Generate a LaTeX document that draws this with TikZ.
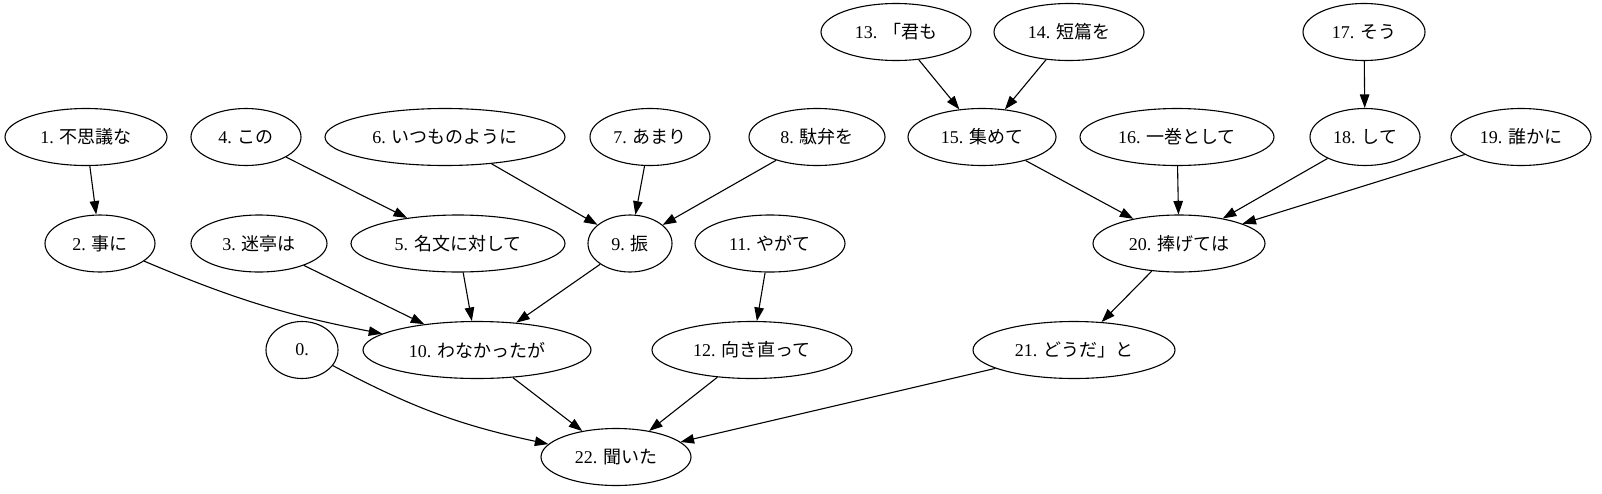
\documentclass[tikz,border=0pt]{standalone}
\usepackage{fontspec}
\setmainfont{Liberation Serif}
\newfontfamily\cjk{Noto Sans CJK JP}
\usetikzlibrary{shapes.geometric,arrows.meta}
\begin{document}
\begin{tikzpicture}[x=1pt,y=-1pt,
  tok/.style={ellipse,draw,line width=1.1pt,inner sep=0pt,minimum height=57pt,font=\fontsize{18}{20}\selectfont},
  dep/.style={-{Triangle[length=13.5pt,width=9.5pt]},line width=1.1pt}]
\useasboundingbox (0,0) rectangle (1602,493);
% row A
\node[tok,minimum width=150pt] (n13) at (896,32) {13. {\cjk 「君も}};
\node[tok,minimum width=150pt] (n14) at (1069,32) {14. {\cjk 短篇を}};
\node[tok,minimum width=122pt] (n17) at (1364,32) {17. {\cjk そう}};
% row B
\node[tok,minimum width=162pt] (n1) at (86,137) {1. {\cjk 不思議な}};
\node[tok,minimum width=110pt] (n4) at (246,137) {4. {\cjk この}};
\node[tok,minimum width=240pt] (n6) at (445,137) {6. {\cjk いつものように}};
\node[tok,minimum width=120pt] (n7) at (650,137) {7. {\cjk あまり}};
\node[tok,minimum width=136pt] (n8) at (817,137) {8. {\cjk 駄弁を}};
\node[tok,minimum width=148pt] (n15) at (982,137) {15. {\cjk 集めて}};
\node[tok,minimum width=194pt] (n16) at (1177,137) {16. {\cjk 一巻として}};
\node[tok,minimum width=110pt] (n18) at (1365,137) {18. {\cjk して}};
\node[tok,minimum width=140pt] (n19) at (1521,137) {19. {\cjk 誰かに}};
% row C
\node[tok,minimum width=110pt] (n2) at (100,243.5) {2. {\cjk 事に}};
\node[tok,minimum width=136pt] (n3) at (259,243.5) {3. {\cjk 迷亭は}};
\node[tok,minimum width=214pt] (n5) at (458,243.5) {5. {\cjk 名文に対して}};
\node[tok,minimum width=84pt] (n9) at (630,243.5) {9. {\cjk 振}};
\node[tok,minimum width=150pt] (n11) at (770,243.5) {11. {\cjk やがて}};
\node[tok,minimum width=172pt] (n20) at (1179,243.5) {20. {\cjk 捧げては}};
% row D
\node[tok,minimum width=72pt] (n0) at (302,350) {0.};
\node[tok,minimum width=228pt] (n10) at (477,350) {10. {\cjk わなかったが}};
\node[tok,minimum width=200pt] (n12) at (752,350) {12. {\cjk 向き直って}};
\node[tok,minimum width=202pt] (n21) at (1074,350) {21. {\cjk どうだ」と}};
% row E
\node[tok,minimum width=150pt] (n22) at (616,457) {22. {\cjk 聞いた}};
% edges
\draw[dep] (n1) -- (n2);
\draw[dep] (n4) -- (n5);
\draw[dep] (n6) -- (n9);
\draw[dep] (n7) -- (n9);
\draw[dep] (n8) -- (n9);
\draw[dep] (n2) to[bend right=6] (n10);
\draw[dep] (n3) -- (n10);
\draw[dep] (n5) -- (n10);
\draw[dep] (n9) -- (n10);
\draw[dep] (n11) -- (n12);
\draw[dep] (n13) -- (n15);
\draw[dep] (n14) -- (n15);
\draw[dep] (n17) -- (n18);
\draw[dep] (n15) -- (n20);
\draw[dep] (n16) -- (n20);
\draw[dep] (n18) -- (n20);
\draw[dep] (n19) -- (n20);
\draw[dep] (n20) -- (n21);
\draw[dep] (n0) to[bend right=8] (n22);
\draw[dep] (n10) -- (n22);
\draw[dep] (n12) -- (n22);
\draw[dep] (n21) -- (n22);
\end{tikzpicture}
\end{document}
